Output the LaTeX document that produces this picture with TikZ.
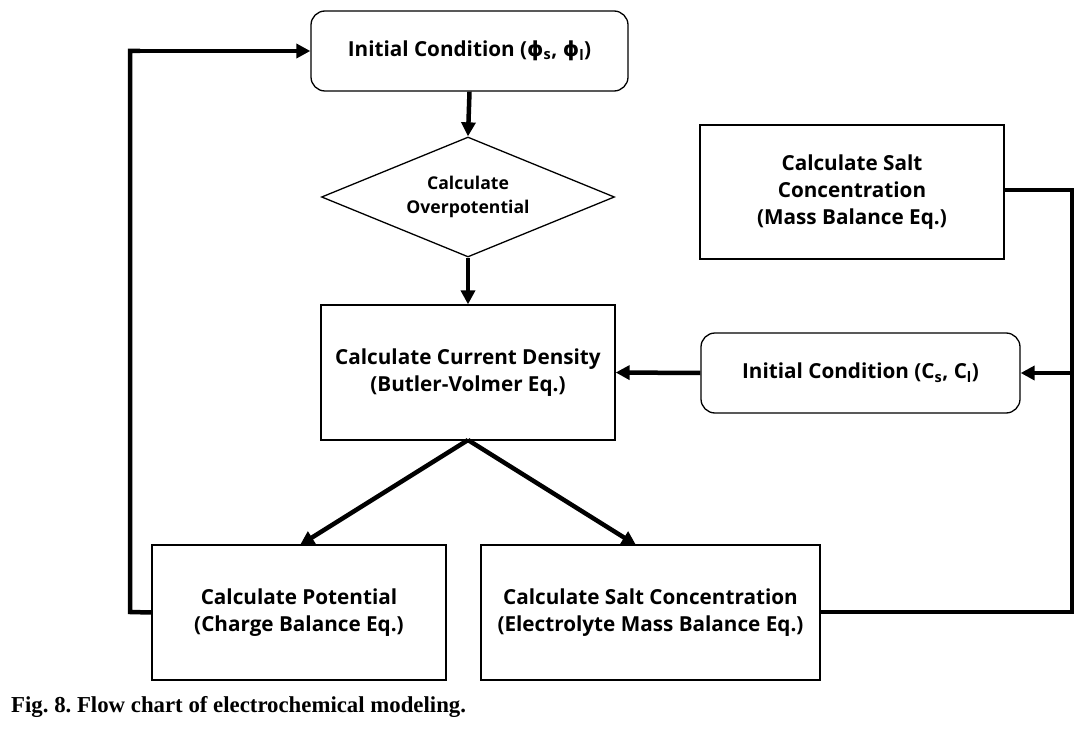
\documentclass[tikz,border=0pt]{standalone}
\usepackage{fontspec}
\setmainfont{Liberation Serif}
\newfontfamily\boxfont{Open Sans}
\newfontfamily\phifont{DejaVu Sans}
\newcommand{\myphi}{{\phifont\bfseries ϕ}}
\usetikzlibrary{shapes.geometric,arrows.meta,calc}
\begin{document}
\frenchspacing
\begin{tikzpicture}[x=1pt,y=-1pt,
  box/.style={draw, line width=1.3pt, inner sep=0pt, font=\boxfont\bfseries\fontsize{20.7}{27}\selectfont, align=center},
  conn/.style={line width=4.5pt, -{Triangle[length=14pt,width=14pt]}},
  line/.style={line width=4.5pt}]
\useasboundingbox (0,0) rectangle (1092,730);
\fill[white] (0,0) rectangle (1092,730);
% nodes
\node[box, rounded corners=14pt, minimum width=317pt, minimum height=80pt] (ic1) at (469.5,51) {Initial Condition (\myphi\textsubscript{s}, \myphi\textsubscript{l})};
\node[box, diamond, aspect=2.44, minimum width=293pt, minimum height=120pt, font=\boxfont\bfseries\fontsize{17.6}{24}\selectfont] (ov) at (468,197) {Calculate\\Overpotential};
\node[box, minimum width=294pt, minimum height=135pt] (cd) at (468,372.5) {Calculate Current Density\\(Butler-Volmer Eq.)};
\node[box, minimum width=304pt, minimum height=134pt] (sc) at (852,192) {Calculate Salt\\Concentration\\(Mass Balance Eq.)};
\node[box, rounded corners=14pt, minimum width=319pt, minimum height=80pt] (ic2) at (860.5,373) {Initial Condition (C\textsubscript{s}, C\textsubscript{l})};
\node[box, minimum width=294pt, minimum height=135pt] (cp) at (299,612.5) {Calculate Potential\\(Charge Balance Eq.)};
\node[box, minimum width=339pt, minimum height=135pt] (cs) at (650.5,612.5) {Calculate Salt Concentration\\(Electrolyte Mass Balance Eq.)};
\coordinate (lt) at (130,51);
\coordinate (lb) at (130,612);
\coordinate (rt) at (1072,190);
\coordinate (rm) at (1072,373);
\coordinate (rb) at (1072,612);
\coordinate (cdb) at (468,440);
\coordinate (cpt) at (300,545);
\coordinate (cst) at (636,545);
% connectors
\draw[conn] (ic1.south) -- (ov.north);
\draw[conn] (ov.south) -- (cd.north);
\draw[conn] (ic2.west) -- (cd.east);
\draw[conn] (cdb) -- (cpt);
\draw[conn] (cdb) -- (cst);
\draw[line, line join=miter] (cp.west) -- (lb) -- (lt) -- ++(10,0);
\draw[conn] (lt) -- (ic1.west);
\draw[line, line join=miter] (sc.east |- rt) -- (rt) -- (rb) -- (cs.east |- rb);
\draw[conn] (rm) -- (ic2.east);
% caption
\node[anchor=base west, inner sep=0pt, font=\bfseries\fontsize{22.8}{26}\selectfont] (cap) at (11,712) {Fig. 8. Flow chart of electrochemical modeling.};
\end{tikzpicture}
\end{document}
